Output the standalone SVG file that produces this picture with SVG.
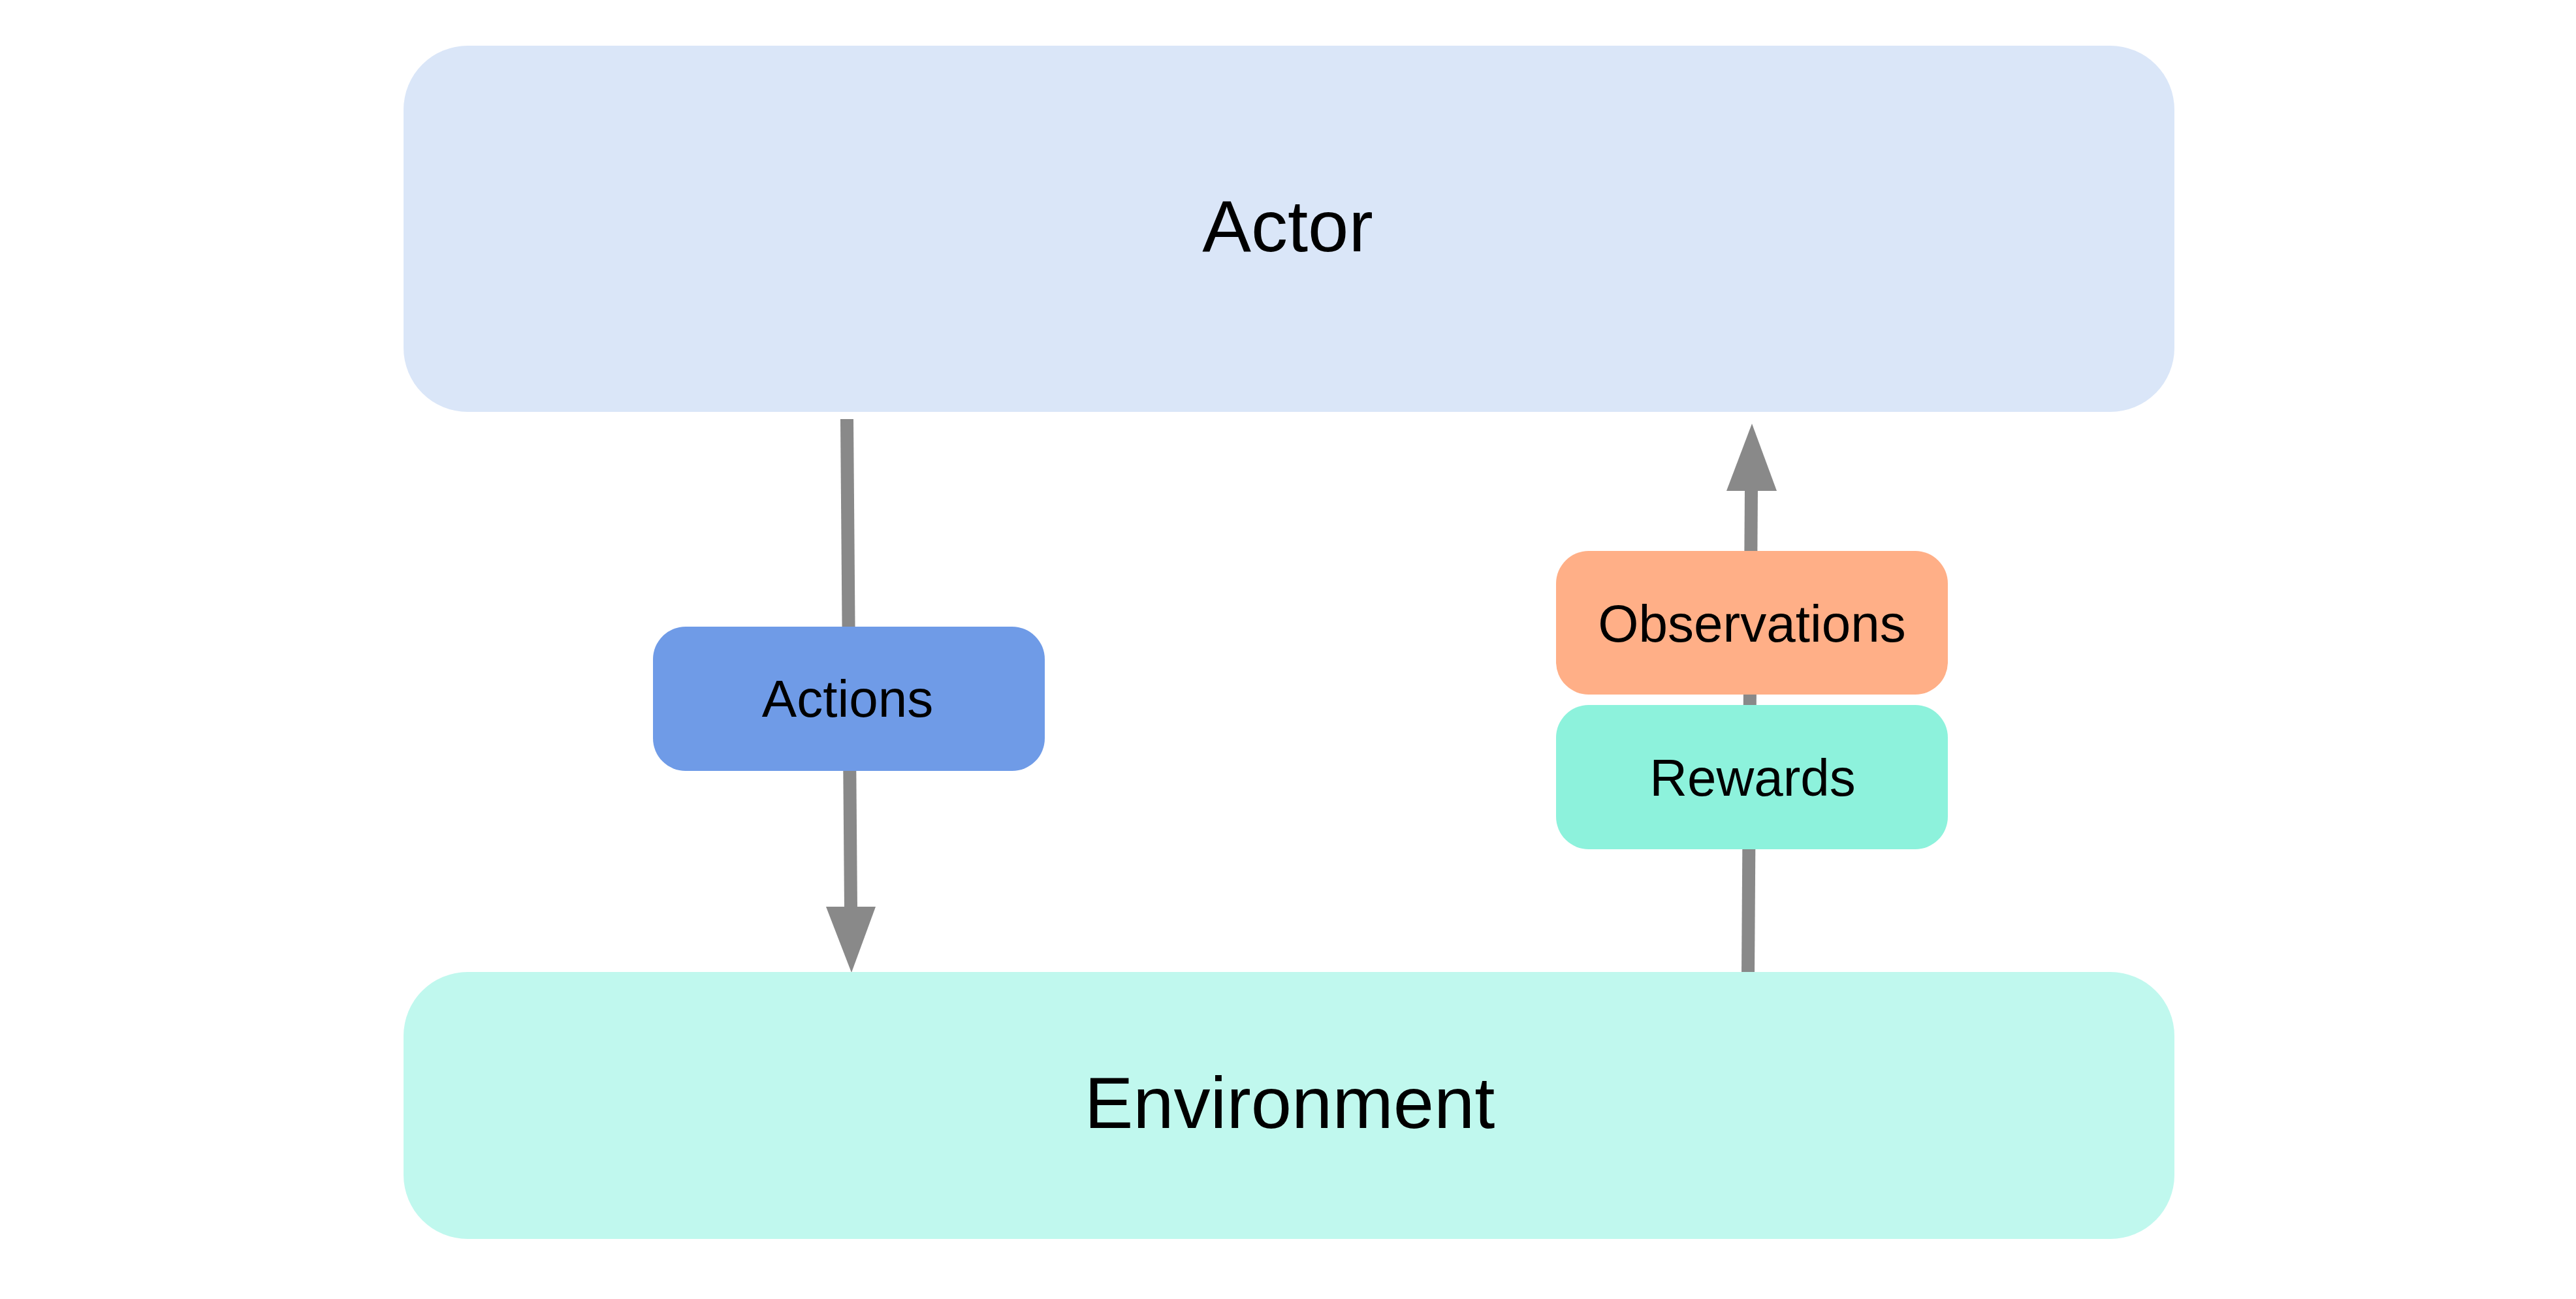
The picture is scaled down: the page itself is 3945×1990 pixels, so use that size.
<svg xmlns="http://www.w3.org/2000/svg" width="3945" height="1990" viewBox="0 0 3945 1990">
<style>
.big{font-family:"Liberation Sans",Arial,sans-serif;font-size:112px;fill:#000;text-anchor:middle}
.lbl{font-family:"Liberation Sans",Arial,sans-serif;font-size:80px;fill:#000;text-anchor:middle}
.edge{stroke:#898989;stroke-width:20;fill:none}
.head{fill:#898989}
</style>
<rect width="3945" height="1990" fill="#ffffff"/>
<g id="connectors">
<line class="edge" x1="1297" y1="642" x2="1303" y2="1392"/>
<polygon class="head" points="1265,1389 1341,1389 1304,1490"/>
<line class="edge" x1="2677" y1="1494" x2="2682" y2="749"/>
<polygon class="head" points="2644,752 2721,752 2683,649"/>
</g>
<g id="actor">
<rect x="618" y="70" width="2712" height="561" rx="98" fill="#DAE6F8"/>
<text class="big" x="1972" y="385">Actor</text>
</g>
<g id="environment">
<rect x="618" y="1489" width="2712" height="409" rx="98" fill="#C0F8EE"/>
<text class="big" x="1975" y="1728">Environment</text>
</g>
<g id="actions">
<rect x="1000" y="960" width="600" height="221" rx="50" fill="#6F9BE7"/>
<text class="lbl" x="1298" y="1098">Actions</text>
</g>
<g id="observations">
<rect x="2383" y="844" width="600" height="220" rx="50" fill="#FFAF87"/>
<text class="lbl" x="2683" y="983">Observations</text>
</g>
<g id="rewards">
<rect x="2383" y="1080" width="600" height="221" rx="50" fill="#8DF2DC"/>
<text class="lbl" x="2684" y="1219">Rewards</text>
</g>
</svg>
